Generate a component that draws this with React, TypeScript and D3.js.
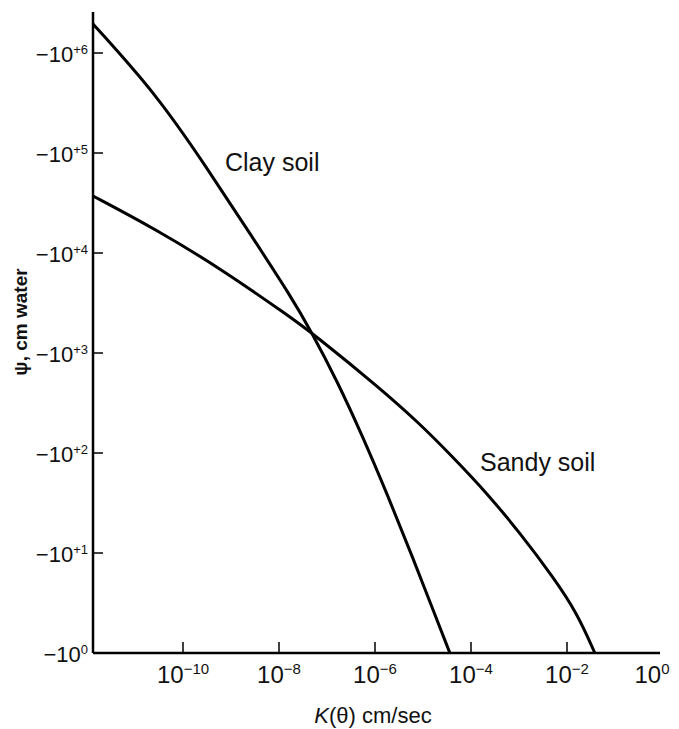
import * as d3 from 'd3';

// Log10 of K (cm/sec) and log10 of |psi| (cm water)
const clayLogK = [-11.875, -10.54, -9.5, -8.6, -7.77, -7.31, -6.79, -6.27, -5.73, -5.21, -4.79, -4.44];
const clayLogPsi = [6.29, 5.58, 4.85, 4.19, 3.58, 3.2, 2.72, 2.18, 1.57, 0.95, 0.43, 0];

const sandyLogK = [-11.875, -10.54, -9.17, -7.77, -7.31, -5.9, -5.06, -4.38, -3.67, -2.98, -2.29, -1.79, -1.42];
const sandyLogPsi = [4.57, 4.23, 3.83, 3.36, 3.2, 2.65, 2.29, 1.96, 1.6, 1.2, 0.76, 0.4, 0];

const xTickExps = [-10, -8, -6, -4, -2, 0];
const xTickSups = ['\u221210', '\u22128', '\u22126', '\u22124', '\u22122', '0'];
const yTickExps = [0, 1, 2, 3, 4, 5, 6];
const yTickSups = ['0', '+1', '+2', '+3', '+4', '+5', '+6'];

const FONT = '"Liberation Sans", Arial, sans-serif';

const App = () => {
  const width = 679;
  const height = 729;

  const x = d3.scaleLog().domain([10 ** -11.875, 1]).range([93, 663]);
  const y = d3.scaleLog().domain([1, 10 ** 6.41]).range([653, 12]);

  // smooth the hand-read points
  const line = d3
    .line<[number, number]>()
    .x(d => x(10 ** d[0]))
    .y(d => y(10 ** d[1]))
    .curve(d3.curveBasis);

  const clay = clayLogK.map((k, i) => [k, clayLogPsi[i]] as [number, number]);
  const sandy = sandyLogK.map((k, i) => [k, sandyLogPsi[i]] as [number, number]);

  const [x0, x1] = x.range();
  const [y0, y1] = y.range();

  return (
    <svg
      width={width}
      height={height}
      style={{ position: 'absolute', left: 0, top: 0, background: '#fff' }}
      fontFamily={FONT}
    >
      {/* curves */}
      <path d={line(clay) || ''} fill="none" stroke="#000" strokeWidth={3} />
      <path d={line(sandy) || ''} fill="none" stroke="#000" strokeWidth={3} />

      {/* axes */}
      <line x1={x0} x2={x0} y1={y1} y2={y0} stroke="#000" strokeWidth={2.5} />
      <line x1={x0} x2={x1 - 3} y1={y0} y2={y0} stroke="#000" strokeWidth={2.5} />

      {/* y ticks */}
      {yTickExps.map((e, i) => (
        <g key={`y${e}`}>
          {e > 0 && (
            <line x1={x0} x2={x0 + 10} y1={y(10 ** e)} y2={y(10 ** e)} stroke="#000" strokeWidth={1.5} />
          )}
          <text x={88} y={y(10 ** e) + 9} textAnchor="end" fontSize={22} fill="#111">
            {'\u221210'}
            <tspan fontSize={13} dy={-8}>{yTickSups[i]}</tspan>
          </text>
        </g>
      ))}

      {/* x ticks */}
      {xTickExps.map((e, i) => (
        <g key={`x${e}`}>
          {e < 0 && (
            <line x1={x(10 ** e)} x2={x(10 ** e)} y1={y0} y2={y0 - 11} stroke="#000" strokeWidth={1.5} />
          )}
          <text x={x(10 ** e) - (e === 0 ? 11 : 0)} y={683} textAnchor="middle" fontSize={24} fill="#111">
            10
            <tspan fontSize={15} dy={-9}>{xTickSups[i]}</tspan>
          </text>
        </g>
      ))}

      {/* axis titles */}
      <text x={373} y={723} textAnchor="middle" fontSize={22} fill="#111">
        <tspan fontStyle="italic">K</tspan>({'\u03b8'}) cm/sec
      </text>
      <text
        transform="translate(27,322) rotate(-90)"
        textAnchor="middle"
        fontSize={19}
        fontWeight="bold"
        fill="#111"
      >
        {'\u03c8, cm water'}
      </text>

      {/* curve labels */}
      <text x={225} y={171} fontSize={25} fill="#111">Clay soil</text>
      <text x={480} y={471} fontSize={25} fill="#111">Sandy soil</text>
    </svg>
  );
};

export default App;
